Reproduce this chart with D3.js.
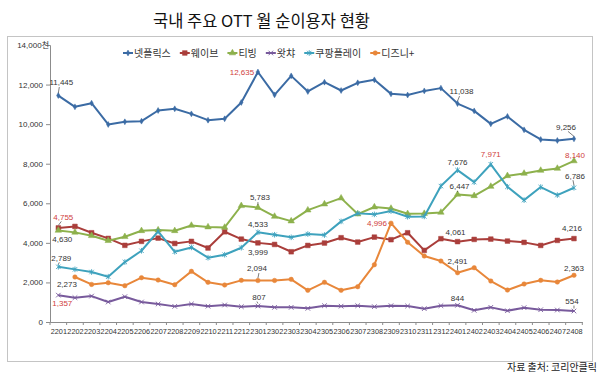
<!DOCTYPE html>
<html><head><meta charset="utf-8">
<script src="https://cdn.jsdelivr.net/npm/d3@7/dist/d3.min.js"></script>
<style>body{margin:0;background:#fff}svg{display:block}</style>
</head><body><svg id="c" width="600" height="376"></svg>
<script>
const months = ["2201","2202","2203","2204","2205","2206","2207","2208","2209","2210","2211","2212",
  "2301","2302","2303","2304","2305","2306","2307","2308","2309","2310","2311","2312",
  "2401","2402","2403","2404","2405","2406","2407","2408"];
const netflix = [11445,10875,11060,9983,10118,10150,10690,10775,10520,10200,10270,11095,
  12635,11480,12440,11650,12120,11700,12090,12240,11530,11470,11680,11820,
  11038,10670,10015,10390,9713,9226,9175,9256];
const wave = [4755,4830,4510,4225,3875,4075,4240,3970,4075,3740,4560,4190,
  3999,3920,3550,3870,3990,4260,4040,4290,4160,4510,3620,4210,
  4061,4175,4190,4090,4025,3870,4125,4216];
const tving = [4630,4530,4360,4110,4310,4610,4645,4610,4880,4800,4780,5875,
  5783,5335,5100,5655,5960,6260,5455,5810,5740,5470,5480,5540,
  6447,6380,6850,7390,7510,7660,7760,8140];
const watcha = [1357,1230,1310,1010,1280,1010,910,790,910,800,860,775,
  807,740,740,690,825,800,825,775,825,810,675,825,
  844,590,740,570,725,620,605,554];
const coupang = [2789,2660,2525,2290,3030,3600,4580,3550,3770,3250,3400,3755,
  4533,4410,4280,4445,4395,5085,5490,5440,5605,5320,5335,6870,
  7676,7070,7971,6835,6160,6820,6415,6786];
const disney = [null,2273,1900,1985,1835,2240,2120,1885,2560,2005,1870,2105,
  2094,2100,2155,1600,2005,1600,1785,2895,4996,4030,3335,3080,
  2491,2745,2070,1615,1920,2105,2020,2363];
const seriesNames = ["넷플릭스","웨이브","티빙","왓챠","쿠팡플레이","디즈니+"];
const yTicks = [0,2000,4000,6000,8000,10000,12000,14000];
// annotations: series index, month index, label, highlighted(red)
const labels = [
  [0,0,"11,445",false],[1,0,"4,755",true],[2,0,"4,630",false],[4,0,"2,789",false],
  [5,1,"2,273",false],[3,0,"1,357",true],
  [0,12,"12,635",true],[2,12,"5,783",false],[4,12,"4,533",false],[1,12,"3,999",false],
  [5,12,"2,094",false],[3,12,"807",false],[5,20,"4,996",true],
  [4,24,"7,676",false],[4,26,"7,971",true],[2,24,"6,447",false],[0,24,"11,038",false],
  [1,24,"4,061",false],[5,24,"2,491",false],[3,24,"844",false],
  [0,31,"9,256",false],[2,31,"8,140",true],[4,31,"6,786",false],[1,31,"4,216",false],
  [5,31,"2,363",false],[3,31,"554",false]
];
// label placement offsets (dx, dy of label centre from point) and leader flag
const labelLayout = [
  [3,-13,1],[5,-11,1],[4,9,0],[3,-9,1],
  [-8,7,0],[4,8,0],
  [-16,0,1],[2,-10,1],[0,-8,0],[0,9,0],
  [-1,-12,1],[1,-9,1],[-14,0,1],
  [0,-8,0],[0,-10,0],[2,-8,1],[4,-12,1],
  [-2,-9,0],[0,-12,1],[0,-7,0],
  [-8,-12,1],[1,-6,0],[1,-12,1],[-2,-10,0],
  [0,-7,0],[-2,-10,1]
];

const allSeries = [netflix,wave,tving,watcha,coupang,disney];
const colors = ["#3b6ba4","#aa3e3b","#8db14c","#785a9c","#3ea2bd","#e8873a"];
const svg = d3.select("#c");
const FONT = "'Noto Sans CJK KR','Liberation Sans',sans-serif";
const NUMFONT = "'Liberation Sans',Arial,sans-serif";

// frame
svg.append("rect").attr("x",7.5).attr("y",36.5).attr("width",585).attr("height",325)
  .attr("fill","#fff").attr("stroke","#c4c4c4").attr("stroke-width",1);

// title
svg.append("text").attr("x",261.5).attr("y",27).attr("text-anchor","middle")
  .attr("font-family",FONT).attr("font-size",16.5).attr("fill","#111")
  .text("국내 주요 OTT 월 순이용자 현황");

// source
svg.append("text").attr("x",597).attr("y",371).attr("text-anchor","end")
  .attr("font-family",FONT).attr("font-size",10).attr("fill","#222")
  .text("자료 출처: 코리안클릭");

const x = d3.scalePoint().domain(months).range([50,582.3]).padding(0.5);
const y = d3.scaleLinear().domain([0,14000]).range([322,45]);

// y axis
const yAxis = svg.append("g").attr("transform","translate(50,0)")
  .call(d3.axisLeft(y).tickValues(yTicks).tickSize(4).tickPadding(3)
    .tickFormat(d => d3.format(",")(d)));
yAxis.select(".domain").attr("stroke","#8c8c8c");
yAxis.selectAll(".tick line").attr("stroke","#8c8c8c");
yAxis.selectAll(".tick text").attr("font-family",NUMFONT).attr("font-size",8).attr("fill","#333");
yAxis.selectAll(".tick").filter(d => d===14000).select("text")
  .attr("x",-1).text("14,000").append("tspan").attr("font-family",FONT).text("천");

// x axis
const xAxis = svg.append("g").attr("transform","translate(0,322)")
  .call(d3.axisBottom(x).tickSize(0).tickPadding(7));
xAxis.select(".domain").attr("stroke","#8c8c8c");
xAxis.selectAll(".tick text").attr("font-family",NUMFONT).attr("font-size",7.3)
  .attr("fill","#333");
const step = x.step();
svg.append("g").selectAll("line").data(d3.range(months.length+1)).join("line")
  .attr("x1",i => 50 + i*step).attr("x2",i => 50 + i*step)
  .attr("y1",322).attr("y2",325).attr("stroke","#8c8c8c");

// lines
const lineGen = d3.line().defined(d => d.v!=null).x(d => x(d.m)).y(d => y(d.v));
const markerPath = [
  d3.symbol(d3.symbolDiamond,10)(),
  d3.symbol(d3.symbolSquare,22)(),
  d3.symbol(d3.symbolTriangle,18)(),
  "M-2.3,-2.3L2.3,2.3M-2.3,2.3L2.3,-2.3",
  "M-2.2,-2.2L2.2,2.2M-2.2,2.2L2.2,-2.2M0,-2.8L0,2.8",
  d3.symbol(d3.symbolCircle,16)()
];
const strokeMarker = [false,false,false,true,true,false];

allSeries.forEach((vals,si) => {
  const pts = vals.map((v,i) => ({m:months[i], v}));
  const g = svg.append("g");
  g.append("path").attr("d",lineGen(pts)).attr("fill","none")
    .attr("stroke",colors[si]).attr("stroke-width",2).attr("stroke-linejoin","round");
  g.selectAll("path.mk").data(pts.filter(d => d.v!=null)).join("path").attr("class","mk")
    .attr("d",markerPath[si])
    .attr("transform",d => `translate(${x(d.m)},${y(d.v)})`)
    .attr("fill",strokeMarker[si] ? "none" : colors[si])
    .attr("stroke",colors[si]).attr("stroke-width",strokeMarker[si]?0.9:0.5);
});

// data labels
labels.forEach((l,k) => {
  const [si,mi,txt,red] = l;
  const [dx,dy,lead] = labelLayout[k];
  const px = x(months[mi]), py = y(allSeries[si][mi]);
  const lx = px+dx, ly = py+dy;
  const t = svg.append("text").attr("x",lx).attr("y",ly).attr("dy","0.35em").attr("text-anchor","middle")
    .attr("font-family",NUMFONT).attr("font-size",8).attr("fill",red?"#d0403c":"#333").text(txt);
  if (lead) {
    let x1,y1,x2,y2;
    if (Math.abs(dy) >= Math.abs(dx)) {
      const s = dy < 0 ? 1 : -1;
      x1 = lx - Math.sign(dx)*2; y1 = ly + s*4.5;
      x2 = px; y2 = py - s*2.5;
    } else {
      const w = t.node().getComputedTextLength();
      const s = dx < 0 ? 1 : -1;
      x1 = lx + s*(w/2+1); y1 = ly;
      x2 = px - s*2.5; y2 = py;
    }
    svg.append("line").attr("x1",x1).attr("y1",y1).attr("x2",x2).attr("y2",y2)
      .attr("stroke","#444").attr("stroke-width",0.7);
  }
});

// legend
const lg = svg.append("g").attr("transform","translate(123,53)");
let cx = 0;
seriesNames.forEach((n,si) => {
  const it = lg.append("g").attr("transform",`translate(${cx},0)`);
  it.append("line").attr("x1",0).attr("x2",10).attr("y1",0).attr("y2",0)
    .attr("stroke",colors[si]).attr("stroke-width",2);
  it.append("path").attr("d",markerPath[si]).attr("transform","translate(5,0)")
    .attr("fill",strokeMarker[si] ? "none" : colors[si]).attr("stroke",colors[si])
    .attr("stroke-width",strokeMarker[si]?0.9:0.5);
  const t = it.append("text").attr("x",11).attr("y",0).attr("dy","0.35em")
    .attr("font-family",FONT).attr("font-size",10).attr("fill","#333").text(n);
  cx += 11 + t.node().getComputedTextLength() + 9;
});
</script></body></html>
